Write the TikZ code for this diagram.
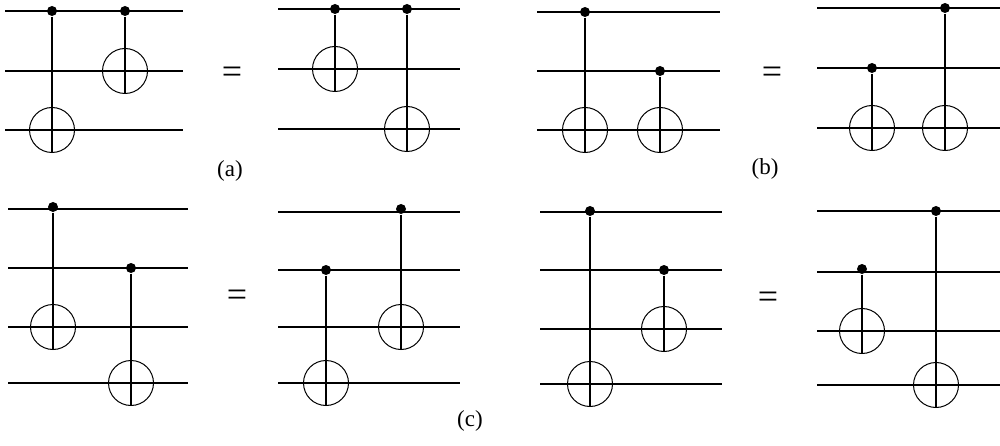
\documentclass[tikz,border=0pt]{standalone}
\usepackage{fontspec}
\setmainfont{Liberation Serif}
\begin{document}
\begin{tikzpicture}[x=1pt,y=-1pt,line width=1.2pt,
  wire/.style={draw},
  ctrl/.style={circle,fill=black,inner sep=0pt,minimum size=10pt},
  targ/.style={circle,draw,line width=1pt,inner sep=0pt,minimum size=45pt,path picture={\draw[line width=1.2pt] (path picture bounding box.north)--(path picture bounding box.south) (path picture bounding box.west)--(path picture bounding box.east);}},
  eq/.style={font=\fontsize{36}{36}\selectfont},
  lab/.style={font=\fontsize{23}{23}\selectfont}]
\useasboundingbox (0,0) rectangle (1000,446);
% (a) left
\foreach \y in {11,71,130} \draw (5,\y)--(183,\y);
\node[targ] (a1t1) at (52,130) {}; \node[ctrl] (a1c1) at (52,11) {}; \draw (a1c1)--(a1t1.south);
\node[targ] (a1t2) at (125,71) {}; \node[ctrl] (a1c2) at (125,11) {}; \draw (a1c2)--(a1t2.south);
\node[eq] (eqa) at (232,75) {=};
% (a) right
\foreach \y in {9,69,129} \draw (278,\y)--(460,\y);
\node[targ] (a2t1) at (335,69) {}; \node[ctrl] (a2c1) at (335,9) {}; \draw (a2c1)--(a2t1.south);
\node[targ] (a2t2) at (407,129) {}; \node[ctrl] (a2c2) at (407,9) {}; \draw (a2c2)--(a2t2.south);
\node[lab] (la) at (230,171) {(a)};
% (b) left
\foreach \y in {12,71,130} \draw (537,\y)--(720,\y);
\node[targ] (b1t1) at (585,130) {}; \node[ctrl] (b1c1) at (585,12) {}; \draw (b1c1)--(b1t1.south);
\node[targ] (b1t2) at (660,130) {}; \node[ctrl] (b1c2) at (660,71) {}; \draw (b1c2)--(b1t2.south);
\node[eq] (eqb) at (772,75) {=};
% (b) right
\foreach \y in {8,68,128} \draw (817,\y)--(1000,\y);
\node[targ] (b2t1) at (872,128) {}; \node[ctrl] (b2c1) at (872,68) {}; \draw (b2c1)--(b2t1.south);
\node[targ] (b2t2) at (945,128) {}; \node[ctrl] (b2c2) at (945,8) {}; \draw (b2c2)--(b2t2.south);
\node[lab] (lb) at (765,169) {(b)};
% (c) 1
\foreach \y in {209,268,327,383} \draw (8,\y)--(188,\y);
\node[targ] (c1t1) at (53,327) {}; \node[ctrl] (c1c1) at (53,207) {}; \draw (c1c1)--(c1t1.south);
\node[targ] (c1t2) at (131,383) {}; \node[ctrl] (c1c2) at (131,268) {}; \draw (c1c2)--(c1t2.south);
\node[eq] (eqc1) at (237,298) {=};
% (c) 2
\foreach \y in {212,270,327,383} \draw (278,\y)--(460,\y);
\node[targ] (c2t1) at (326,383) {}; \node[ctrl] (c2c1) at (326,270) {}; \draw (c2c1)--(c2t1.south);
\node[targ] (c2t2) at (401,327) {}; \node[ctrl] (c2c2) at (401,209) {}; \draw (c2c2)--(c2t2.south);
% (c) 3
\foreach \y in {212,270,329,384} \draw (540,\y)--(722,\y);
\node[targ] (c3t1) at (590,384) {}; \node[ctrl] (c3c1) at (590,211) {}; \draw (c3c1)--(c3t1.south);
\node[targ] (c3t2) at (664,329) {}; \node[ctrl] (c3c2) at (664,270) {}; \draw (c3c2)--(c3t2.south);
\node[eq] (eqc2) at (768,300) {=};
% (c) 4
\foreach \y in {211,272,331,385} \draw (817,\y)--(1000,\y);
\node[targ] (c4t1) at (862,331) {}; \node[ctrl] (c4c1) at (862,269) {}; \draw (c4c1)--(c4t1.south);
\node[targ] (c4t2) at (936,385) {}; \node[ctrl] (c4c2) at (936,211) {}; \draw (c4c2)--(c4t2.south);
\node[lab] (lc) at (470,421) {(c)};
\end{tikzpicture}
\end{document}
